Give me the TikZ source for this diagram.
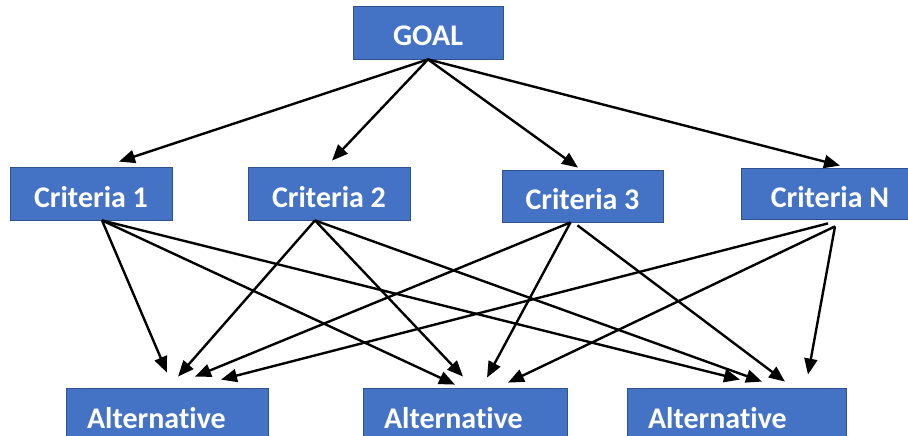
\documentclass[tikz,border=0pt]{standalone}
\usepackage{fontspec}
\setmainfont{Carlito}[Ligatures=NoCommon]
\usepackage{tikz}
\usetikzlibrary{arrows.meta, positioning}
\definecolor{boxblue}{HTML}{4472C4}
\definecolor{boxline}{HTML}{2F528F}
\tikzset{
  box/.style={rectangle, draw=boxline, line width=0.8pt, fill=boxblue, text=white,
    font=\fontsize{30}{36}\selectfont\bfseries, inner sep=0pt, minimum height=53pt,
    text height=30pt, text depth=3pt},
  alt/.style={box, text width=#1, align=left, inner xsep=21pt}
}
\begin{document}
\begin{tikzpicture}[->, >={Triangle[length=16pt, width=13pt]}, line width=2.4pt, x=1pt, y=-1pt]
                        \useasboundingbox (0, 0) rectangle (908, 436);
                        \clip (0, 0) rectangle (908, 436);
                        \node [box, minimum width=150pt] (goal) at (428, 32.5) {GOAL};
                        \node [box, minimum width=162pt] (c1) at (91, 193.5) {Criteria 1};
                        \node [box, minimum width=162pt] (c2) at (329, 193.5) {Criteria 2};
                        \node [box, minimum width=161pt, minimum height=52pt] (c3) at (582.5, 196) {Criteria 3};
                        \node [box, minimum width=177pt, minimum height=51pt] (cN) at (830, 193.5) {Criteria N};
                        \node [alt=160pt] (a1) at (167, 414.5) {Alternative};
                        \node [alt=162pt] (a2) at (465, 414.5) {Alternative};
                        \node [alt=177pt] (a3) at (736.5, 414.5) {Alternative};

                        \path (goal.south) edge ([xshift=28pt, yshift=5pt]c1.north);
                        \path (goal.south) edge ([xshift=3pt, yshift=6pt]c2.north);
                        \path (goal.south) edge ([xshift=-4.5pt, yshift=2pt]c3.north);
                        \path (goal.south) edge ([xshift=10pt, yshift=2pt]cN.north);

                        \path ([xshift=11pt]c1.south) edge ([yshift=15pt]a1.north);
                        \path ([xshift=11pt]c1.south) edge ([xshift=-10pt, yshift=3pt]a2.north);
                        \path ([xshift=11pt]c1.south) edge ([xshift=3.5pt, yshift=8pt]a3.north);

                        \path ([xshift=-14pt]c2.south) edge ([xshift=11pt, yshift=11pt]a1.north);
                        \path ([xshift=-14pt]c2.south) edge ([xshift=-2pt, yshift=11pt]a2.north);
                        \path ([xshift=-14pt]c2.south) edge ([xshift=25.5pt, yshift=6pt]a3.north);

                        \path ([xshift=-12pt]c3.south) edge ([xshift=28pt, yshift=11pt]a1.north);
                        \path ([xshift=-12pt]c3.south) edge ([xshift=22pt, yshift=10pt]a2.north);
                        \path ([xshift=-5pt, yshift=-3pt]c3.south) edge ([xshift=48.5pt, yshift=6pt]a3.north);

                        \path ([xshift=-2pt, yshift=-4pt]cN.south) edge ([xshift=54pt, yshift=8pt]a1.north);
                        \path ([xshift=5pt, yshift=-7pt]cN.south) edge ([xshift=43pt, yshift=5pt]a2.north);
                        \path ([xshift=5pt, yshift=-7pt]cN.south) edge ([xshift=71.5pt, yshift=13pt]a3.north);
                    \end{tikzpicture}
\end{document}
